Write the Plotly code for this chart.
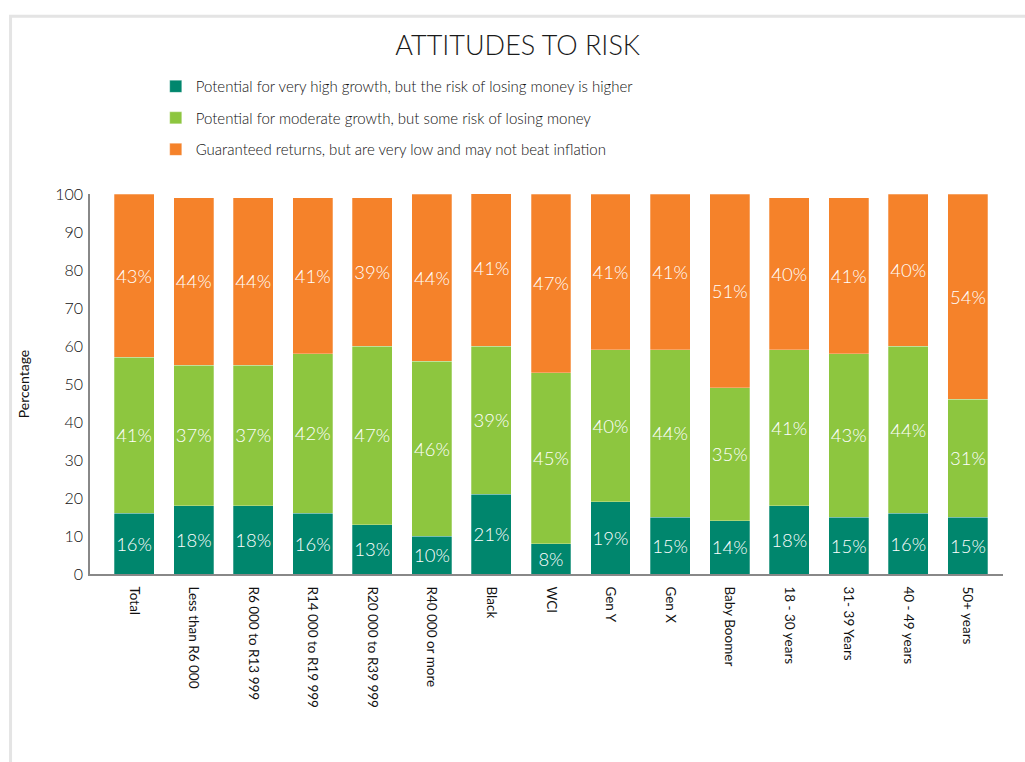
import plotly.graph_objects as go

categories = [
    "Total", "Less than R6 000", "R6 000 to R13 999", "R14 000 to R19 999",
    "R20 000 to R39 999", "R40 000 or more", "Black", "WCI", "Gen Y", "Gen X",
    "Baby Boomer", "18 - 30 years", "31- 39 Years", "40 - 49 years", "50+ years",
]
high_growth = [16, 18, 18, 16, 13, 10, 21, 8, 19, 15, 14, 18, 15, 16, 15]
moderate_growth = [41, 37, 37, 42, 47, 46, 39, 45, 40, 44, 35, 41, 43, 44, 31]
guaranteed = [43, 44, 44, 41, 39, 44, 41, 47, 41, 41, 51, 40, 41, 40, 54]

series = [
    ("Potential for very high growth, but the risk of losing money is higher", high_growth, "#00866D"),
    ("Potential for moderate growth, but some risk of losing money", moderate_growth, "#8DC63F"),
    ("Guaranteed returns, but are very low and may not beat inflation", guaranteed, "#F5822A"),
]

FONT = "Lato"

fig = go.Figure()
for i, (name, vals, color) in enumerate(series):
    fig.add_trace(go.Bar(
        x=categories, y=vals, name=name, legendgroup=f"g{i}",
        marker=dict(color=color, line=dict(color="rgba(255,255,255,0.45)", width=0.6)),
        texttemplate="%{y}%", textposition="inside", insidetextanchor="middle",
        textangle=0, constraintext="none",
        textfont=dict(color="white", size=18.5, family=FONT, weight=300),
        hoverinfo="skip",
    ))

fig.update_layout(
    width=1025, height=762,
    barmode="stack", bargap=0.33,
    paper_bgcolor="white", plot_bgcolor="white",
    margin=dict(l=90, r=22, t=194, b=188),
    font=dict(family=FONT, color="#222222"),
    title=dict(text="ATTITUDES TO RISK", x=0.505, xanchor="center", y=0.94, yanchor="middle",
               font=dict(size=27, family=FONT, color="#1a1a1a", weight=300)),
    legend=dict(x=0.072, y=1.326, xanchor="left", yanchor="top", orientation="v",
                traceorder="grouped", tracegroupgap=9,
                font=dict(size=15, family=FONT, color="#111111", weight=300),
                bgcolor="rgba(0,0,0,0)"),
    showlegend=True,
    xaxis=dict(range=[-0.74, 14.59], tickangle=90, showline=True, linecolor="#888888",
               linewidth=1.5, ticks="", showgrid=False,
               tickfont=dict(size=13.5, color="#111111", weight=400),
               ticklabelstandoff=8),
    yaxis=dict(range=[0, 100], dtick=10, showline=True, linecolor="#888888", linewidth=1.5,
               showgrid=False, zeroline=False, ticks="",
               tickfont=dict(size=16, color="#111111", weight=300), ticklabelstandoff=2,
               title=dict(text="Percentage", font=dict(size=14, color="#111111", weight=400),
                          standoff=22)),
    shapes=[
        dict(type="rect", xref="paper", yref="paper", x0=-0.087, x1=1.03, y0=-0.6, y1=1.468,
             line=dict(color="#e4e4e4", width=3), layer="below"),
    ],
)

fig.write_html("out.html")
